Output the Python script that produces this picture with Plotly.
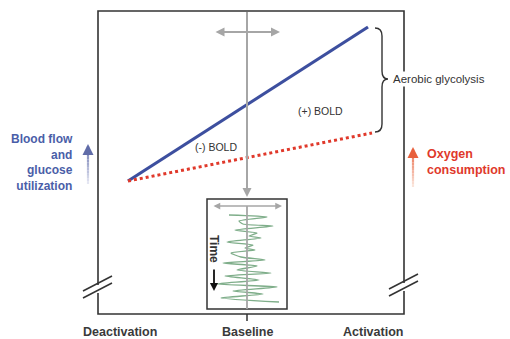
"""Schematic: BOLD signal, blood flow and oxygen consumption vs. brain state."""

import plotly.graph_objects as go

W, H = 510, 339
FONT = "Liberation Sans, Arial, sans-serif"
DARK = "#333333"
GRAY = "#a6a6a6"
BLUE = "#3d4f9f"
RED = "#e0392b"

# state axis labels (pixel x of each label centre)
states = ["Deactivation", "Baseline", "Activation"]
state_x = [120, 247, 373]

# blood flow / glucose utilisation and oxygen consumption lines
flow_x = [128, 368]
flow_y = [181, 27]
oxygen_x = [128, 372]
oxygen_y = [181, 133]

# BOLD time course in the inset (offset from baseline, px) and sample times
bold_signal = [-18, 20, -8, -4, 26, -12, 10, 2, 14, -20, 6, -2, 8, -16,
               -6, 18, -24, 10, -10, 24, -22, 12, -30, 30, -14, 16, -26, 32]
bold_time = [215, 217, 221, 224, 226, 230, 233, 236, 238, 242, 245, 248, 250,
             253, 257, 260, 263, 266, 270, 273, 276, 280, 284, 287, 291, 294,
             298, 302]
BASE_X = 247

fig = go.Figure()


def seg(x0, y0, x1, y1, color=DARK, width=1.5, dash=None):
    fig.add_shape(type="line", x0=x0, y0=y0, x1=x1, y1=y1, xref="x", yref="y",
                  line=dict(color=color, width=width, dash=dash), layer="above")


def arrow(x0, y0, x1, y1, color, width=2, head=2, both=False, size=1.0):
    fig.add_annotation(x=x1, y=y1, ax=x0, ay=y0, xref="x", yref="y",
                       axref="x", ayref="y", showarrow=True, text="",
                       arrowhead=head, arrowsize=size, arrowwidth=width,
                       arrowcolor=color,
                       arrowside="end+start" if both else "end",
                       startarrowhead=head, startarrowsize=size)


def grad_arrow(x, y_bottom, y_top, c0, c1, n=14):
    for i in range(n):
        t = i / n
        ya = y_bottom + (y_top - y_bottom) * t
        yb = y_bottom + (y_top - y_bottom) * (i + 1) / n
        col = "rgb({},{},{})".format(*[round(a + (b - a) * t) for a, b in zip(c0, c1)])
        seg(x, ya, x, yb, color=col, width=2.2)
    arrow(x, y_top + 6, x, y_top - 2,
          "rgb({},{},{})".format(*c1), width=2.2, head=2, size=1.0)


# main frame
fig.add_shape(type="rect", x0=98, y0=11, x1=404, y1=314, xref="x", yref="y",
              line=dict(color=DARK, width=1.6), layer="below")
# axis break marks
for xb, yb in [(98, 289), (404, 287)]:
    seg(xb, yb - 4, xb, yb + 4, color="white", width=4)
    seg(xb - 15, yb + 9, xb + 14, yb - 6, width=1.5)
    seg(xb - 15, yb + 2, xb + 14, yb - 13, width=1.5)
# baseline tick
seg(BASE_X, 314, BASE_X, 321)

# gray baseline marker with double arrow
seg(BASE_X, 12, BASE_X, 190, color=GRAY, width=2)
arrow(BASE_X, 186, BASE_X, 197, GRAY, width=2, head=2, size=0.9)
arrow(214, 32, 280, 32, GRAY, width=2, head=2, both=True, size=0.9)

# inset box
fig.add_shape(type="rect", x0=207, y0=199, x1=287, y1=309, xref="x", yref="y",
              line=dict(color=DARK, width=1.5), fillcolor="white", layer="below")
seg(BASE_X, 206, BASE_X, 309, color=GRAY, width=1.8)
arrow(212, 206, 282, 206, GRAY, width=1.5, head=2, both=True, size=0.9)

fig.add_trace(go.Scatter(
    x=[BASE_X + v for v in bold_signal], y=bold_time, mode="lines",
    line=dict(color="#7fae8a", width=1.3, shape="spline", smoothing=0.6),
    hoverinfo="skip"))

fig.add_trace(go.Scatter(
    x=flow_x, y=flow_y, mode="lines",
    line=dict(color=BLUE, width=3.2), hoverinfo="skip"))
fig.add_trace(go.Scatter(
    x=oxygen_x, y=oxygen_y, mode="lines",
    line=dict(color=RED, width=3, dash="dot"), hoverinfo="skip"))

# curly brace for aerobic glycolysis
fig.add_shape(
    type="path", xref="x", yref="y", layer="above",
    path=("M 375 28 Q 382 28 382 36 L 382 71 Q 382 79 388 79 "
          "Q 382 79 382 87 L 382 124 Q 382 132 375 132"),
    line=dict(color=DARK, width=1.4))

# side arrows
grad_arrow(88, 184, 146, (228, 230, 242), (96, 108, 168))
grad_arrow(413, 187, 149, (250, 228, 218), (232, 96, 60))

fig.add_annotation(x=391, y=79, text="Aerobic glycolysis", showarrow=False,
                   xanchor="left", font=dict(family=FONT, size=11.5, color=DARK),
                   bgcolor="white", borderpad=1)
fig.add_annotation(x=320, y=111, text="(+) BOLD", showarrow=False,
                   font=dict(family=FONT, size=10.5, color=DARK))
fig.add_annotation(x=216, y=147, text="(-) BOLD", showarrow=False,
                   font=dict(family=FONT, size=10.5, color=DARK))

fig.add_annotation(x=75, y=162,
                   text="<b>Blood flow<br>and<br>glucose<br>utilization</b>",
                   showarrow=False, xanchor="right", align="right",
                   font=dict(family=FONT, size=12, color="#4a5ea8"))
fig.add_annotation(x=425, y=162, text="<b>Oxygen<br>consumption</b>",
                   showarrow=False, xanchor="left", align="left",
                   font=dict(family=FONT, size=12.5, color=RED))

fig.add_annotation(x=214, y=249, text="<b>Time</b>", textangle=90,
                   showarrow=False, font=dict(family=FONT, size=12, color=DARK))
arrow(214, 268, 214, 291, "#111111", width=1.8, head=2, size=0.9)

for name, sx in zip(states, state_x):
    fig.add_annotation(x=sx, y=332, text=f"<b>{name}</b>", showarrow=False,
                       font=dict(family=FONT, size=12.5, color="#3a3a3a"))

fig.update_layout(
    width=W, height=H, margin=dict(l=0, r=0, t=0, b=0),
    paper_bgcolor="white", plot_bgcolor="white", showlegend=False,
    xaxis=dict(range=[0, W], visible=False, fixedrange=True),
    yaxis=dict(range=[H, 0], visible=False, fixedrange=True),
)

fig.write_html(
    "out.html",
    config={"displayModeBar": False},
    post_script="document.body.style.margin='0';document.body.style.overflow='hidden';",
)
